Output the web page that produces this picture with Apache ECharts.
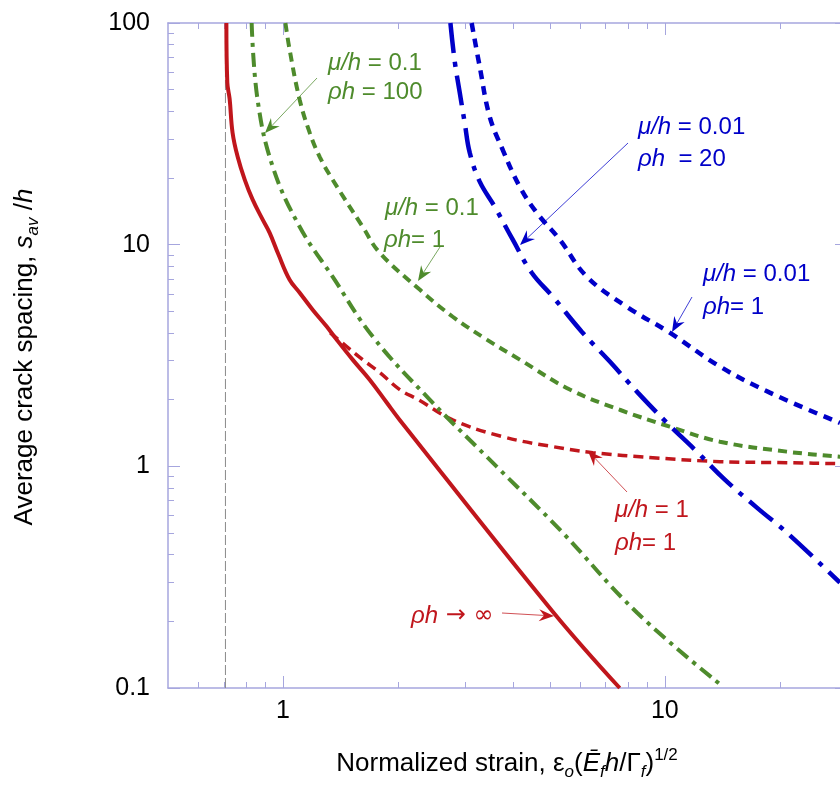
<!DOCTYPE html>
<html><head><meta charset="utf-8">
<script src="https://cdn.jsdelivr.net/npm/echarts@6/dist/echarts.min.js"></script>
<style>html,body{margin:0;padding:0;background:#fff}#c{width:840px;height:793px}</style>
</head><body><div id="c"></div><script>
// ---- data ----
const redSolidX = [0.711,0.715,0.725,0.738,0.761,0.794,0.833,0.885,0.923,0.974,1.041,1.106,1.196,1.302,1.382,1.522,1.687,1.869,2.022,5.09,7.62];
const redSolidY = [100,53.8,45.5,32.0,24.9,19.65,15.96,12.97,11.3,9.0,6.95,6.07,5.09,4.27,3.73,3.03,2.46,1.94,1.62,0.221,0.1];

const redDashX = [1.33,1.469,1.617,1.792,2.022,2.26,2.784,3.763,5.088,6.478,9.30,13.94,20.85,28.74,30];
const redDashY = [4.0,3.47,3.03,2.65,2.22,2.00,1.62,1.36,1.227,1.153,1.094,1.05,1.039,1.028,1.027];

const greenDashDotX = [0.828,0.858,0.940,1.106,1.349,1.718,2.423,3.629,5.31,8.45,14.19];
const greenDashDotY = [100,45.1,22.5,12.05,7.17,3.85,2.00,0.997,0.518,0.219,0.1015];

const greenDashX = [1.015,1.041,1.106,1.175,1.248,1.349,1.617,1.792,2.281,2.784,3.418,4.17,5.64,7.62,10.30,13.94,20.85,28.74,30];
const greenDashY = [100,75.8,45.1,32.0,24.9,19.65,12.05,9.2,6.27,4.73,3.73,3.03,2.22,1.80,1.51,1.292,1.165,1.106,1.10];

const blueDashDotX = [2.745,2.818,2.904,2.992,3.084,3.276,3.585,3.998,4.483,5.088,6.060,7.177,8.497,10.12,12.13,14.36,17.42,20.87,28.74];
const blueDashDotY = [100,66.9,48.5,35.5,26.0,19.24,14.84,10.53,7.47,5.83,4.05,2.97,2.15,1.574,1.165,0.871,0.651,0.502,0.299];

const blueDotX = [3.12,3.276,3.479,3.763,4.17,4.62,5.31,6.25,7.95,10.30,13.94,18.84,28.74];
const blueDotY = [100,63.5,37.8,26.8,18.26,13.94,10.53,7.17,5.25,4.01,2.82,2.15,1.57];

const limitX = [0.707,0.707];
const limitY = [0.1,100];

const xRange = [0.5, 30];
const yRange = [0.1, 100];
const xMajorTicks = [1, 10];
const xMinorTicks = [0.6,0.7,0.8,0.9,2,3,4,5,6,7,8,9,20];
const yMajorTicks = [0.1, 1, 10, 100];
const yMinorTicks = [0.2,0.3,0.4,0.5,0.6,0.7,0.8,0.9,2,3,4,5,6,7,8,9,20,30,40,50,60,70,80,90];

// ---- styles ----
const AX = '#a6a6de';
const RED = '#c0161c', GREEN = '#4e8b2c', BLUE = '#0000c8';
const FONT = 'Liberation Sans, Arial, sans-serif';

const zip = (xs, ys) => xs.map((x, i) => [x, ys[i]]);
const fmt = v => String(Number(Number(v).toPrecision(6)));

function xAx(pos, major, labels) {
  return {
    type: 'log', logBase: 10, min: xRange[0], max: xRange[1], position: pos, gridIndex: 0,
    axisLine: { show: major, onZero: false, lineStyle: { color: AX, width: 1.5 } },
    axisTick: { show: true, inside: true, length: major ? 12 : 6,
      customValues: major ? xMajorTicks : xMinorTicks, lineStyle: { color: AX, width: 1 } },
    axisLabel: { show: labels, customValues: xMajorTicks, color: '#000', fontSize: 25,
      fontFamily: FONT, margin: 11, formatter: fmt },
    splitLine: { show: false }, minorTick: { show: false }
  };
}
function yAx(pos, major, labels) {
  return {
    type: 'log', logBase: 10, min: yRange[0], max: yRange[1], position: pos, gridIndex: 0,
    axisLine: { show: major, onZero: false, lineStyle: { color: AX, width: 1.5 } },
    axisTick: { show: true, inside: true, length: major ? 12 : 6,
      customValues: major ? yMajorTicks : yMinorTicks, lineStyle: { color: AX, width: 1 } },
    axisLabel: { show: labels, customValues: yMajorTicks, color: '#000', fontSize: 25,
      fontFamily: FONT, margin: 18, formatter: fmt },
    splitLine: { show: false }, minorTick: { show: false }
  };
}

function line(name, xs, ys, color, width, type) {
  return { name, type: 'line', xAxisIndex: 0, yAxisIndex: 0, data: zip(xs, ys),
    showSymbol: false, symbol: 'none', smooth: 0.4, silent: true, animation: false, z: 3,
    lineStyle: { color, width, type } };
}

// ---- annotations (graphic) ----
function label(x, y, rich1, rest, color, size, restFont) {
  return { type: 'text', x, y, silent: true, style: {
    text: '{i|' + rich1 + '}{n|' + rest + '}', fill: color, font: size + 'px ' + FONT,
    verticalAlign: 'middle', align: 'left',
    rich: { i: { fontStyle: 'italic', fontSize: size, fontFamily: FONT, fill: color },
            n: { fontSize: size, fontFamily: restFont || FONT, fill: color } } } };
}
function arrow(x1, y1, x2, y2, color) {
  const a = Math.atan2(y2 - y1, x2 - x1), c = Math.cos(a), s = Math.sin(a);
  const L = 15, W = 6, N = 10;
  const tip = [x2, y2];
  const lft = [x2 - L * c - W * s, y2 - L * s + W * c];
  const rgt = [x2 - L * c + W * s, y2 - L * s - W * c];
  const notch = [x2 - N * c, y2 - N * s];
  return [
    { type: 'line', silent: true, shape: { x1, y1, x2: notch[0], y2: notch[1] },
      style: { stroke: color, lineWidth: 1, opacity: 0.75 } },
    { type: 'polygon', silent: true, shape: { points: [tip, lft, notch, rgt] },
      style: { fill: color } }
  ];
}

const titleRich = {
  n: { fontSize: 26, fontFamily: FONT, fill: '#000', lineHeight: 34 },
  i: { fontSize: 26, fontFamily: FONT, fill: '#000', fontStyle: 'italic', lineHeight: 34 },
  sub: { fontSize: 17, fontFamily: FONT, fill: '#000', fontStyle: 'italic', verticalAlign: 'bottom', lineHeight: 17 },
  sup: { fontSize: 17, fontFamily: FONT, fill: '#000', verticalAlign: 'top', lineHeight: 17 }
};

const graphics = [
  label(328, 63, 'μ/h', ' = 0.1', GREEN, 24),
  label(328, 92, 'ρh', ' = 100', GREEN, 24),
  label(385, 208, 'μ/h', ' = 0.1', GREEN, 24),
  label(384, 240, 'ρh', '= 1', GREEN, 24),
  label(638, 127, 'μ/h', ' = 0.01', BLUE, 24),
  label(638, 159, 'ρh', '  = 20', BLUE, 24),
  label(703, 274, 'μ/h', ' = 0.01', BLUE, 24),
  label(703, 307, 'ρh', '= 1', BLUE, 24),
  label(615, 510, 'μ/h', ' = 1', RED, 24),
  label(615, 543, 'ρh', '= 1', RED, 24),
  label(411, 616, 'ρh', ' → ∞', RED, 24, 'DejaVu Sans'),
  ...arrow(317, 78, 265, 133, GREEN),
  ...arrow(440, 247, 418, 281, GREEN),
  ...arrow(628, 143, 520, 245, BLUE),
  ...arrow(692, 297, 672, 332, BLUE),
  ...arrow(627, 492, 588, 451, RED),
  ...arrow(502, 613, 554, 616, RED),
  { type: 'text', x: 507, y: 764, silent: true, style: {
      text: '{n|Normalized strain, ε}{sub|o}{n|(}{i|Ē}{sub|f}{i|h}{n|/Γ}{sub|f}{n|)}{sup|1/2}',
      align: 'center', verticalAlign: 'middle', rich: titleRich, fill: '#000', font: '26px ' + FONT } },
  { type: 'text', x: 25, y: 357, rotation: Math.PI / 2, silent: true, style: {
      text: '{n|Average crack spacing, }{i|s}{sub|av}{n| /}{i|h}',
      align: 'center', verticalAlign: 'middle', rich: titleRich, fill: '#000', font: '26px ' + FONT } }
];

const chart = echarts.init(document.getElementById('c'), null, { renderer: 'canvas' });
chart.setOption({
  backgroundColor: '#fff',
  animation: false,
  grid: { left: 168, top: 23, width: 679, height: 665, containLabel: false, outerBoundsMode: 'none' },
  xAxis: [xAx('bottom', true, true), xAx('top', true, false), xAx('bottom', false, false), xAx('top', false, false)],
  yAxis: [yAx('left', true, true), yAx('right', true, false), yAx('left', false, false), yAx('right', false, false)],
  series: [
    { type: 'line', data: zip(limitX, limitY), showSymbol: false, symbol: 'none', silent: true, z: 1,
      lineStyle: { color: '#8a8a8a', width: 1, type: [10, 3] } },
    line('ρh→∞', redSolidX, redSolidY, RED, 4, 'solid'),
    line('μ/h=1, ρh=1', redDashX, redDashY, RED, 3.5, [10, 6]),
    line('μ/h=0.1, ρh=100', greenDashDotX, greenDashDotY, GREEN, 4, [14, 6, 4, 6]),
    line('μ/h=0.1, ρh=1', greenDashX, greenDashY, GREEN, 4, [9, 6]),
    line('μ/h=0.01, ρh=20', blueDashDotX, blueDashDotY, BLUE, 4.5, [30, 9, 5, 9]),
    line('μ/h=0.01, ρh=1', blueDotX, blueDotY, BLUE, 4.5, [9, 7])
  ],
  graphic: graphics
});
</script></body></html>
